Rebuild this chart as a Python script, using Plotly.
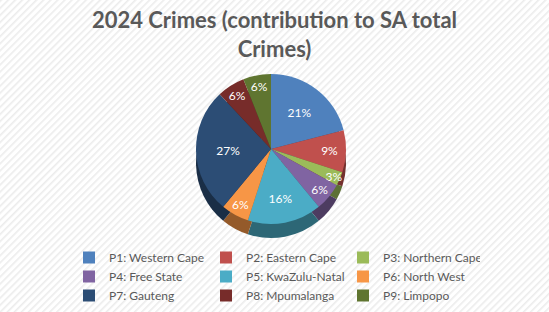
import base64
import plotly.graph_objects as go

labels = ["P1: Western Cape", "P2: Eastern Cape", "P3: Northern Cape",
          "P4: Free State", "P5: KwaZulu-Natal", "P6: North West",
          "P7: Gauteng", "P8: Mpumalanga", "P9: Limpopo"]
values = [21, 9, 3, 6, 16, 6, 27, 6, 6]

colors = ["#4F81BD", "#C0504D", "#9BBB59", "#8064A2", "#4BACC6",
          "#F79646", "#2C4D75", "#772C2A", "#5F7530"]
side_colors = ["#2F4D71", "#73302E", "#5D7035", "#4D3C61", "#2D6776",
               "#945A2A", "#1A2E46", "#471A19", "#39461D"]

W, H = 549, 312
ml, mr, mt, mb = 50, 50, 0, 0
pw, ph = W - ml - mr, H - mt - mb

svg = (
    f'<svg xmlns="http://www.w3.org/2000/svg" width="{W}" height="{H}">'
    '<defs><pattern id="p" width="5" height="5" patternUnits="userSpaceOnUse" '
    'patternTransform="rotate(45)">'
    '<rect width="5" height="5" fill="#ffffff"/>'
    '<rect x="0" y="0" width="1.6" height="5" fill="#ececec"/>'
    '</pattern></defs>'
    f'<rect width="{W}" height="{H}" fill="url(#p)"/></svg>'
)
bg_uri = "data:image/svg+xml;base64," + base64.b64encode(svg.encode()).decode()

def px_x(a, b):
    return [(a - ml) / pw, (b - ml) / pw]

def px_y(top, bottom):
    return [(H - mb - bottom) / ph, (H - mb - top) / ph]

fig = go.Figure()

# side (depth) layer
fig.add_trace(go.Pie(
    labels=labels, values=values, sort=False, direction="clockwise", rotation=0,
    marker=dict(colors=side_colors, line=dict(width=0)),
    textinfo="none", hoverinfo="skip", showlegend=False,
    domain=dict(x=px_x(196, 346), y=px_y(88, 238)),
))

fig.add_trace(go.Pie(
    labels=labels, values=values, sort=False, direction="clockwise", rotation=0,
    marker=dict(colors=colors, line=dict(width=0)),
    texttemplate="%{value}%", textposition="inside",
    insidetextorientation="horizontal",
    textfont=dict(color="white", size=12, family="Lato"),
    domain=dict(x=px_x(196, 346), y=px_y(74, 224)),
))

fig.update_layout(
    width=W, height=H,
    margin=dict(l=ml, r=mr, t=mt, b=mb),
    paper_bgcolor="white",
    uniformtext=dict(minsize=12, mode="show"),
    title=dict(
        text="2024 Crimes (contribution to SA total<br>Crimes)",
        x=0.5, xref="paper", xanchor="center",
        y=1 - 28 / H, yref="container", yanchor="middle",
        font=dict(family="Lato", size=22, color="#595959", weight="bold"),
    ),
    legend=dict(
        orientation="h", x=0.5, xanchor="center", y=px_y(243, 243)[0], yanchor="top",
        entrywidth=92, font=dict(family="Lato", size=12, color="#595959"),
        bgcolor="rgba(0,0,0,0)", traceorder="normal",
    ),
    images=[dict(
        source=bg_uri, xref="paper", yref="paper",
        x=-ml / pw, y=1 + mt / ph, sizex=W / pw, sizey=H / ph,
        xanchor="left", yanchor="top", sizing="stretch", layer="below",
    )],
)

fig.write_html("out.html")
